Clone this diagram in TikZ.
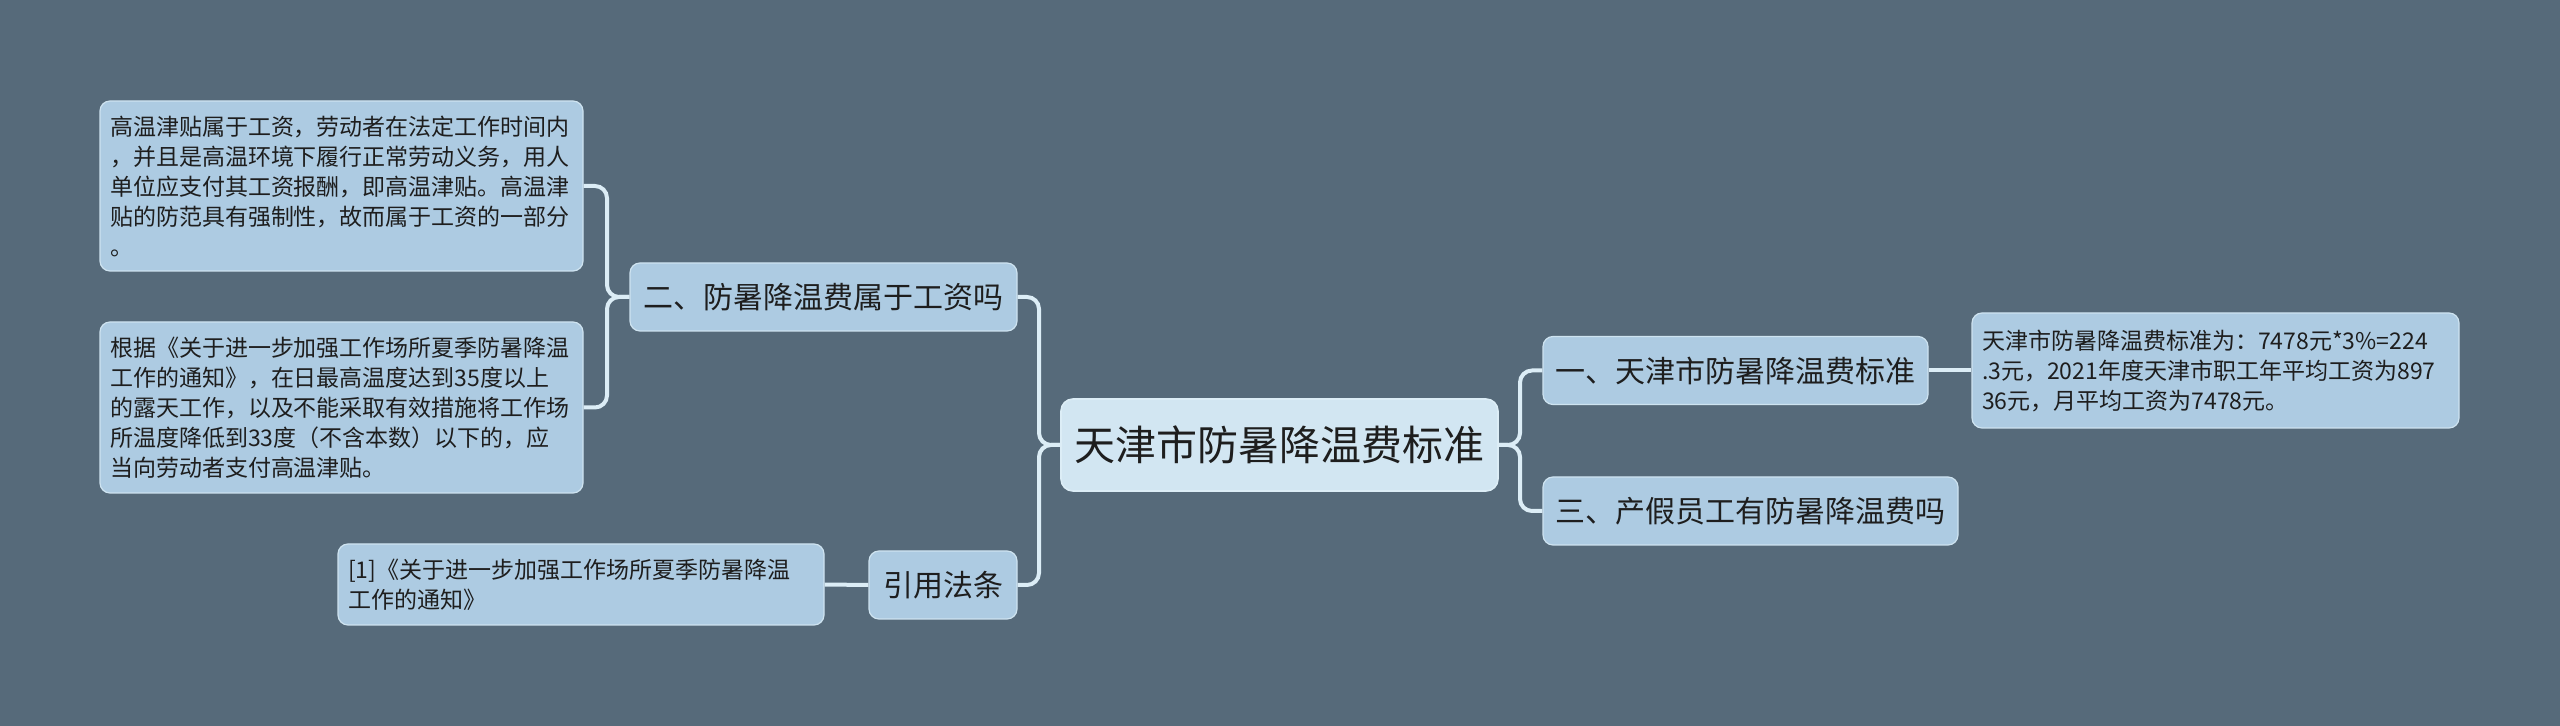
\documentclass[tikz,border=0pt]{standalone}
\usepackage{fontspec}
\setmainfont{Noto Sans CJK SC}
\definecolor{fondo}{HTML}{566A7A}
\definecolor{cajaazul}{HTML}{ADCBE2}
\definecolor{raizazul}{HTML}{D2E6F2}
\definecolor{linea}{HTML}{DCEDF6}
\definecolor{texto}{HTML}{1E1E1E}

\begin{document}
\begin{tikzpicture}[x=0.5pt, y=-0.5pt,
    % Estilos de nodos
    raiz/.style={
        draw=linea, line width=0.8pt, rounded corners=6pt,
        fill=raizazul, minimum width=218.5pt, minimum height=46pt,
        font=\fontsize{20.5}{24}\selectfont, text=texto, inner sep=2pt
    },
    rama/.style={
        draw=linea!70!cajaazul, line width=0.6pt, rounded corners=5pt,
        fill=cajaazul, minimum height=34pt, inner sep=2pt,
        font=\fontsize{15}{18}\selectfont, text=texto
    },
    hoja/.style={
        draw=linea!70!cajaazul, line width=0.6pt, rounded corners=5pt,
        fill=cajaazul, text width=231.5pt, inner sep=5pt, align=left,
        font=\fontsize{11.5}{15}\selectfont, text=texto
    },
    enlace/.style={draw=linea, line width=2pt, rounded corners=6pt}
]

% fondo
\fill[fondo] (0,0) rectangle (2560,726);
\useasboundingbox (0,0) rectangle (2560,726);

% =============================================
% NODOS
% =============================================

% Tema central
\node[raiz] (root) at (1279.5, 445) {天津市防暑降温费标准};

% Ramas derecha
\node[rama, minimum width=192.5pt] (uno) at (1735.5, 370.5) {一、天津市防暑降温费标准};
\node[rama, minimum width=207.5pt] (tres) at (1750.5, 511) {三、产假员工有防暑降温费吗};

% Ramas izquierda
\node[rama, minimum width=193.5pt] (dos) at (823.5, 297) {二、防暑降温费属于工资吗};
\node[rama, minimum width=74pt] (ley) at (943, 585) {引用法条};

% Hojas
\node[hoja, minimum height=85pt] (dosa) at (341.5, 186)
    {高温津贴属于工资，劳动者在法定工作时间内\\，并且是高温环境下履行正常劳动义务，用人\\单位应支付其工资报酬，即高温津贴。高温津\\贴的防范具有强制性，故而属于工资的一部分\\。};
\node[hoja, minimum height=85.5pt] (dosb) at (341.5, 407.5)
    {根据《关于进一步加强工作场所夏季防暑降温\\工作的通知》，在日最高温度达到35度以上\\的露天工作，以及不能采取有效措施将工作场\\所温度降低到33度（不含本数）以下的，应\\当向劳动者支付高温津贴。};
\node[hoja, minimum height=40.5pt, text width=233pt] (leya) at (581, 584.5)
    {[1]《关于进一步加强工作场所夏季防暑降温\\工作的通知》};
\node[hoja, minimum height=57.5pt, text width=233.5pt] (unoa) at (2215.5, 370.5)
    {天津市防暑降温费标准为：7478元*3\%=224\\.3元，2021年度天津市职工年平均工资为897\\36元，月平均工资为7478元。};

% =============================================
% CONEXIONES
% =============================================
\coordinate (rder) at (1520, 445);
\coordinate (rizq) at (1039, 445);
\coordinate (rdos) at (607, 297);

\path[enlace] (root.east) -- (rder) |- (uno.west);
\path[enlace] (root.east) -- (rder) |- (tres.west);
\path[enlace] (root.west) -- (rizq) |- (dos.east);
\path[enlace] (root.west) -- (rizq) |- (ley.east);
\path[enlace] (dos.west) -- (rdos) |- (dosa.east);
\path[enlace] (dos.west) -- (rdos) |- (dosb.east);
\path[enlace] (ley.west) -- (leya.east);
\path[enlace] (uno.east) -- (unoa.west);

\end{tikzpicture}
\end{document}
